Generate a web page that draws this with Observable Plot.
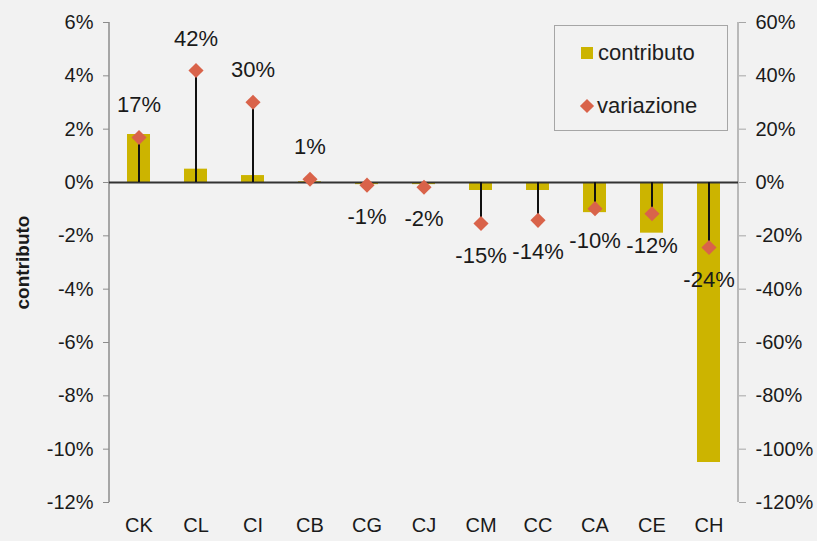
<!DOCTYPE html>
<html>
<head>
<meta charset="utf-8">
<script src="https://cdn.jsdelivr.net/npm/d3@7"></script>
<script src="https://cdn.jsdelivr.net/npm/@observablehq/plot@0.6"></script>
<style>
  html, body { margin: 0; padding: 0; background: #F2F2F2; }
  #wrap { position: relative; width: 817px; height: 541px; font-family: "Liberation Sans", Arial, sans-serif; color: #1e1e1e; }
  #legend { position: absolute; left: 554px; top: 25px; width: 172px; height: 104px; border: 1px solid #a6a6a6; }
  .item { position: absolute; left: 26px; font-size: 22px; display: flex; align-items: center; }
  .sw { display: inline-block; width: 12px; height: 12px; background: #CCB400; margin-right: 5px; }
  .dm { display: inline-block; width: 10px; height: 10px; background: #D9634A; transform: rotate(45deg); margin: 0 5px 0 1px; }
</style>
</head>
<body>
<div id="wrap">
  <div id="chart"></div>
  <div id="legend">
    <div class="item" style="top: 14px;"><span class="sw"></span>contributo</div>
    <div class="item" style="top: 67px;"><span class="dm"></span>variazione</div>
  </div>
</div>
<script>
const categories = ["CK","CL","CI","CB","CG","CJ","CM","CC","CA","CE","CH"];
const contributo = [1.8, 0.5, 0.26, 0.03, -0.08, -0.08, -0.3, -0.3, -1.13, -1.9, -10.5];
const variazione = [16.9, 42, 30.1, 1.2, -1, -1.8, -15.4, -14.2, -9.8, -11.7, -24.4];
const leftTicks = [-12, -10, -8, -6, -4, -2, 0, 2, 4, 6];
const rightTicks = [-120, -100, -80, -60, -40, -20, 0, 20, 40, 60];

const gold = "#CCB400";
const red = "#D9634A";
const textColor = "#1a1a1a";

const data = categories.map((c, i) => ({cat: c, contributo: contributo[i], variazione: variazione[i], v: variazione[i] / 10}));

const frameLines = (index, scales, values, dim) => {
  const g = d3.create("svg:g");
  const top = dim.marginTop, bottom = dim.height - dim.marginBottom;
  const left = dim.marginLeft, right = dim.width - dim.marginRight;
  g.append("line").attr("x1", left).attr("x2", left).attr("y1", top).attr("y2", bottom)
    .attr("stroke", "#8c8c8c").attr("stroke-width", 1.5);
  g.append("line").attr("x1", right).attr("x2", right).attr("y1", top).attr("y2", bottom)
    .attr("stroke", "#a6a6a6").attr("stroke-width", 1.5);
  return g.node();
};

const chart = Plot.plot({
  width: 817,
  height: 541,
  marginLeft: 109,
  marginRight: 79,
  marginTop: 22,
  marginBottom: 39,
  style: {background: "#F2F2F2", fontFamily: "Liberation Sans, Arial, sans-serif", color: textColor, overflow: "visible"},
  x: {domain: categories, paddingInner: 0.6, paddingOuter: 0.29, axis: null},
  y: {domain: [-12, 6], axis: null},
  marks: [
    Plot.barY(data, {x: "cat", y: "contributo", fill: gold}),
    frameLines,
    Plot.ruleY([0], {stroke: "#333", strokeWidth: 2}),
    Plot.ruleX(data, {x: "cat", y1: 0, y2: "v", stroke: "#111", strokeWidth: 2}),
    Plot.dot(data, {x: "cat", y: "v", symbol: "diamond2", r: 6.8, fill: red, stroke: null}),
    Plot.text(data.filter(d => d.variazione >= 0), {x: "cat", y: "v", text: d => Math.round(d.variazione) + "%", dy: -32, fontSize: 22, fill: textColor}),
    Plot.text(data.filter(d => d.variazione < 0), {x: "cat", y: "v", text: d => Math.round(d.variazione) + "%", dy: 32, fontSize: 22, fill: textColor}),
    Plot.axisY(leftTicks, {anchor: "left", tickFormat: d => d + "%", tickSize: 6, tickPadding: 10, fontSize: 20, stroke: "#8c8c8c", label: null}),
    Plot.axisY(rightTicks.map(d => d / 10), {anchor: "right", tickFormat: (d, i) => rightTicks[i] + "%", tickSize: 7, tickPadding: 10, fontSize: 20, stroke: "#a6a6a6", label: null}),
    Plot.axisX(categories, {anchor: "bottom", tickSize: 0, tickPadding: 15, fontSize: 20, label: null}),
    Plot.text(["contributo"], {frameAnchor: "left", text: d => d, rotate: -90, dx: -87, textAnchor: "middle", fontSize: 19, fontWeight: "bold", fill: textColor})
  ]
});
document.getElementById("chart").appendChild(chart);
</script>
</body>
</html>
